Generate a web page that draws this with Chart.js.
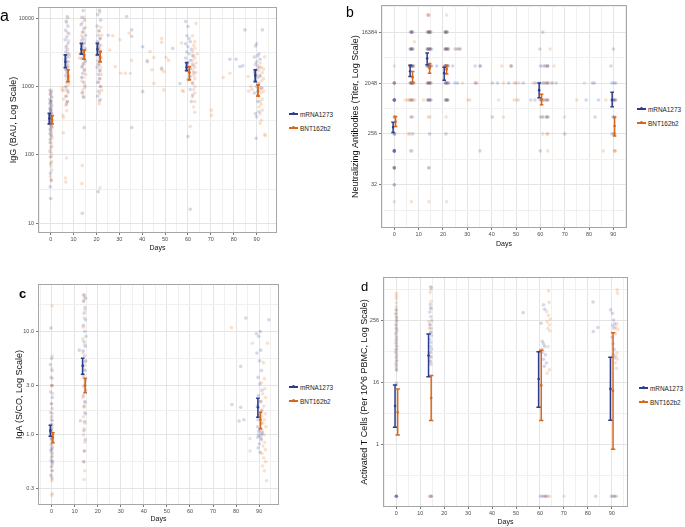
<!DOCTYPE html>
<html>
<head>
<meta charset="utf-8">
<script src="https://cdn.jsdelivr.net/npm/chart.js@4.4.1/dist/chart.umd.min.js"></script>
<style>
  html, body { margin: 0; padding: 0; background: #fff; }
  body { width: 685px; height: 527px; position: relative; overflow: hidden;
         font-family: "Liberation Sans", Arial, sans-serif; }
  canvas { position: absolute; }
  .tag { position: absolute; line-height: 1; color: #000; }
  .legend { position: absolute; font-size: 6.4px; color: #222; }
  .legend div { height: 14px; display: flex; align-items: center; white-space: nowrap; }
  .key { position: relative; display: inline-block; width: 9px; height: 1.5px; margin-right: 2px; }
  .key i { position: absolute; left: 3px; top: -1px; width: 3px; height: 3px; border-radius: 50%; background: inherit; }
</style>
</head>
<body>
<canvas id="pa"></canvas>
<canvas id="pb"></canvas>
<canvas id="pc"></canvas>
<canvas id="pd"></canvas>
<div class="tag" style="left:0px;top:8px;font-size:16px">a</div>
<div class="tag" style="left:346px;top:5px;font-size:14px">b</div>
<div class="tag" style="left:19px;top:287px;font-size:13px;font-weight:bold">c</div>
<div class="tag" style="left:361px;top:280px;font-size:13px">d</div>
<div class="legend" id="la" style="left:289px;top:107px"></div>
<div class="legend" id="lb" style="left:637px;top:102px"></div>
<div class="legend" id="lc" style="left:289px;top:380px"></div>
<div class="legend" id="ld" style="left:639px;top:381px"></div>
<script>
/* ---- series / labels ---- */
const seriesNames = ['mRNA1273', 'BNT162b2'];
const dayTicks = [0, 10, 20, 30, 40, 50, 60, 70, 80, 90];
const dayMinor = [-5, 5, 15, 25, 35, 45, 55, 65, 75, 85, 95];

/* a: IgG (BAU) */
const iggTicks = [10, 100, 1000, 10000];
const iggLabels = ['10', '100', '1000', '10000'];
const iggMinor = [31.6, 316, 3162];
const iggMrna = [
  [-0.3,880],[0.2,820],[-0.1,760],[0.3,700],[-0.4,650],[0.1,610],[-0.2,570],[0.4,540],[0,510],[-0.3,480],
  [0.2,455],[-0.1,430],[0.3,410],[-0.4,390],[0.1,370],[-0.2,350],[0.3,330],[0,315],[-0.3,300],[0.2,285],
  [-0.1,270],[0.4,255],[-0.2,240],[0.1,225],[-0.3,205],[0.2,190],[0,170],[-0.2,150],[0.1,130],[-0.3,112],
  [0.2,95],[0,75],[-0.1,54],[0.2,43],[-0.2,34],[0,23],[0.1,600],[-0.2,460],[0.2,380],
  [7.2,10500],[6.8,9000],[7.5,7600],[6.5,6600],[7.9,5900],[7,5300],[6.3,4800],[7.6,4300],[6.9,3900],[7.3,3500],
  [6.6,3200],[8,2950],[7.1,2700],[6.4,2500],[7.7,2300],[6.9,2100],[7.4,1900],[6.7,1750],[7.2,1600],[6.5,1450],
  [7.8,1300],[7,1150],[6.8,1000],[7.5,850],[6.6,720],[7.3,600],[6.9,560],
  [14.2,12800],[13.6,10200],[14.8,9300],[13.3,8000],[14.5,7000],[13.9,6200],[15.2,5600],[14.1,5100],[13.5,4700],[14.7,4300],
  [13.8,3900],[15,3600],[14.3,3300],[13.4,3050],[14.6,2800],[13.9,2550],[15.1,2350],[14.2,2150],[13.6,1950],[14.8,1750],
  [14,1550],[13.5,1350],[14.4,1150],[15,980],[13.8,820],[14.3,700],[14.6,250],[13.8,14],
  [21.3,13000],[20.6,11200],[21.8,9300],[20.3,7600],[21.1,6500],[20.8,5600],[21.6,5000],[20.4,4500],[21.2,4000],[20.9,3600],
  [21.7,3200],[20.5,2900],[21.4,2600],[20.7,2350],[21.1,2100],[20.3,1900],[21.6,1700],[20.9,1500],[21.3,1300],[20.6,1150],
  [21.8,1000],[21,850],[20.5,720],[21.3,620],[20.8,29],
  [25.2,5600],[33.2,10500],[35.4,6700],[35.4,5400],[40.2,3800],[40.2,840],[42.2,2300],[48.5,1850],[53.3,3600],[35.4,250],
  [59,8900],[60,7500],[59.5,5500],[60.5,5000],[61,4500],[59,4200],[60,3800],[61.5,3500],[59.5,3200],[60.5,3000],
  [62,2800],[59,2600],[61,2400],[60,2200],[62,2100],[59.5,2000],[61,1850],[60,1700],[62.5,1600],[61,1400],
  [60,1250],[62,1100],[61,900],[62,750],[61.5,600],[60,185],[61,16],[56.5,1100],
  [78.3,2500],[81,2500],[82.7,1950],[84.9,6700],[84,2000],
  [92.5,6700],[90,4200],[89.5,3900],[91,3000],[90.5,2800],[89,2700],[91.5,2500],[90,2300],[89.5,2100],[91,1900],
  [90,1750],[89,1600],[91.5,1450],[90.5,1350],[89.5,1200],[91,1100],[90,1000],[92,950],[89,800],[90.5,600],
  [91,430],[89.5,400],[90,360],[89.8,175]
];
const iggBnt = [
  [0.3,860],[-0.2,780],[0.5,700],[0.1,620],[-0.4,560],[0.4,500],[0,440],[0.6,400],[-0.3,370],[0.2,340],
  [0.5,310],[-0.1,290],[0.3,270],[0.7,250],[-0.2,230],[0.4,210],[0.1,195],[0.6,180],[-0.3,165],[0.2,150],
  [0.5,135],[0,120],[0.3,105],[-0.2,92],[0.4,80],[0.1,68],[0.5,60],[-0.1,48],[0.3,42],
  [7.6,10000],[6.9,8500],[7.3,6200],[7.8,4700],[6.6,3700],[7.4,3100],[8.1,2700],[7,2300],[7.7,2000],[6.5,1800],
  [7.2,1600],[8,1450],[6.8,1300],[7.5,1200],[7.9,1080],[6.3,980],[7.1,900],[5.8,870],[7.6,800],[6.9,720],
  [5.6,650],[7.3,600],[6.7,530],[7,440],[5,950],[5,870],[5.3,380],[5.6,350],[5.5,210],[6.9,90],[6.4,46],[6.6,40],
  [14.5,10200],[13.8,8500],[15.1,7300],[14.2,6300],[13.5,5500],[14.9,4800],[14.4,4200],[13.7,3800],[15.2,3400],[14,3100],
  [14.7,2800],[13.4,2550],[15,2300],[14.3,2100],[13.9,1900],[14.6,1700],[15.3,1500],[14.1,1350],[13.6,1200],[14.8,1050],
  [14.2,900],[13.9,780],[14.5,700],[13.8,70],[13.6,38],[12.8,3000],[12.5,2600],
  [21.5,12200],[21.9,7300],[21.2,6400],[22.3,5600],[21.6,5000],[20.9,4500],[22,4000],[21.4,3600],[21.8,3200],[21.1,2900],
  [22.2,2600],[21.5,2350],[20.8,2100],[21.9,1900],[21.3,1700],[22.1,1500],[21.6,1300],[21,1150],[21.7,1000],[22.3,880],
  [21.4,780],[21.8,650],[21.2,560],[21.6,33],
  [25.8,3400],[27.2,5500],[28.2,1950],[30.6,1560],[30.3,4800],[32.6,1560],[34.8,1560],[35.4,2400],[34.3,6000],[43.4,3240],
  [42.2,2400],[45.1,2650],[44.3,1750],[45.1,1110],[48.5,5000],[48.5,4400],[48.5,1750],[49.4,1650],[50.4,2650],[51.5,2400],[49.4,890],
  [63.5,8300],[62,5500],[63,4500],[62.5,4000],[63,3600],[62,3200],[64,3000],[62.5,2800],[63,2600],[62,2400],
  [63.5,2200],[62.5,2000],[63,1900],[62,1750],[63.5,1600],[62.5,1450],[63,1300],[62,1150],[63,1000],[62.5,900],
  [63,800],[62,700],[63,600],[62.5,500],[63,420],[61,260],[57.5,870],[58,840],[57.2,4300],
  [70.2,450],[70.3,380],[75.4,1350],[78.3,1560],[86.3,1400],
  [93.5,2700],[91.5,2200],[90.5,2000],[92,1900],[93,1800],[91,1700],[92.5,1600],[90,1500],[91.5,1400],[93,1300],
  [92,1200],[90.5,1100],[91,1000],[92.5,950],[91.5,900],[93,850],[92,800],[90.5,750],[91,700],[92.5,650],
  [91.5,600],[92,550],[91,500],[92.5,450],[91.5,400],[92,320],[91.5,290],[93.5,200],[93.8,190],[87.5,1000],[88,900],[86.5,850]
];
/* [day, lower, mean, upper] */
const iggMrnaBars = [[0,283,340,405],[7,1885,2290,2890],[14,2960,3500,4260],[21,2890,3500,4260],[60,1700,1900,2230],[90,1175,1450,1740]];
const iggBntBars = [[0,283,323,370],[7,1175,1400,1740],[14,2500,2900,3400],[21,2290,2700,3240],[60,1245,1600,1950],[90,725,850,1050]];

/* b: neutralizing titer */
const nabTicks = [32, 256, 2048, 16384];
const nabLabels = ['32', '256', '2048', '16384'];
const nabMinor = [11.3, 90.5, 724, 5793, 46341];
const nabMrna = [
  [0,2048],[0,2048],[0,1024],[0,1024],[0,1024],[0,1024],[0,1024],[0,1024],[0.1,512],[0,512],[0,256],[0,256],
  [0,128],[0,128],[0,128],[0,128],[0,128],[0,128],[0,64],[0,64],[0,64],[0,32],[0,32],
  [6.6,16384],[7,16384],[7.2,16384],[7.5,16384],[6.5,8192],[6.8,8192],[7,8192],[7.3,8192],[7.6,8192],
  [6.4,4096],[6.8,4096],[7,4096],[7.2,4096],[7.5,4096],[7.9,4096],[6.5,2048],[6.9,2048],[7,2048],[7.2,2048],[7.6,2048],[8,2048],
  [6.8,1024],[7.4,1024],[7,512],[7.5,256],[7.2,128],
  [14,32768],[13.6,16384],[14,16384],[14.2,16384],[14.6,16384],[15,16384],[13.5,8192],[13.9,8192],[14.1,8192],[14.4,8192],[14.8,8192],[15.3,8192],
  [13.4,4096],[13.8,4096],[14,4096],[14.3,4096],[14.7,4096],[15.2,4096],[13.6,2048],[14,2048],[14.2,2048],[14.6,2048],[15,2048],
  [13.8,1024],[14,1024],[14.3,1024],[14.8,1024],[15.1,1024],[14.5,256],[14.1,64],[17.4,4096],
  [20.8,16384],[21,16384],[21.3,16384],[21.7,16384],[20.9,8192],[21.1,8192],[21.4,8192],[21.8,8192],[22.3,8192],
  [20.7,4096],[21,4096],[21.2,4096],[21.6,4096],[22.2,4096],[20.9,2048],[21.1,2048],[21.5,2048],[21.9,2048],[22.4,2048],
  [21,1024],[21.3,1024],[21.6,1024],[22,1024],[21.2,256],
  [24.9,8192],[26.1,8192],[27,8192],[24,4096],[33.2,4096],[35.2,4096],[35.4,4096],[48,4096],[24.9,2048],[26,2048],[33.4,2048],
  [40.3,2048],[42.4,2048],[47,2048],[50,2048],[53,2048],[58,2048],[56.1,1024],[57.8,1024],[40.3,512],[35.2,128],
  [61,16384],[59.8,8192],[60,4096],[61,4096],[62,4096],[63,4096],[63,4096],[59.5,2048],[60.5,2048],[61.5,2048],[62.5,2048],[63.2,2048],
  [65,2048],[66.5,2048],[59.8,1024],[60.6,1024],[61.5,1024],[62.5,1024],[63,1024],[60,512],[61,512],[62.5,512],[63,512],[60,128],
  [70,256],[78.8,1024],[81.4,2048],[82.2,2048],[83.9,1024],[82.5,512],
  [90,8192],[89,4096],[89.4,2048],[90.3,2048],[91,2048],[89.3,1024],[90,1024],[90.3,1024],[91,1024],[89.8,512],[90.5,512],[89.4,256],[90.2,256]
];
const nabBnt = [
  [0,4096],[0,2048],[0,2048],[0,2048],[0.2,512],[0.3,256],[0,64],[0,64],[0,16],
  [6.9,16384],[7.3,16384],[8.3,11000],[6.6,8192],[7.1,8192],[7.6,8192],[6.2,4096],[6.9,4096],[7.4,4096],[8,4096],
  [6.6,2048],[7,2048],[7.5,2048],[7.9,2048],[4.5,1024],[5.5,1024],[6,1024],[6.5,1024],[7,1024],[7.6,1024],[8.4,1024],
  [6.8,512],[7.6,512],[5.8,256],[6.4,256],[6.6,128],[7,16],
  [13.6,32768],[14.3,32768],[13.8,16384],[14.2,16384],[14.5,16384],[14.9,16384],[13.5,8192],[14,8192],[14.4,8192],[14.9,8192],
  [13.6,4096],[14,4096],[14.3,4096],[14.7,4096],[15.4,4096],[13.6,2048],[14.1,2048],[14.5,2048],[15,2048],
  [12,1024],[13.6,1024],[14.4,1024],[14,512],[14.6,512],[14.3,64],[14.2,16],
  [21.5,32768],[21,16384],[21.4,16384],[21.8,16384],[20.8,8192],[21.3,8192],[21.7,8192],[22.1,8192],
  [20.5,4096],[21,4096],[21.5,4096],[22,4096],[21,2048],[21.4,2048],[21.9,2048],[21.2,1024],[21.6,1024],[22,1024],[21.3,512],[21.5,16],
  [25.7,8192],[27,8192],[28,2048],[33.2,2048],[34,2048],[30.2,1024],[31,1024],[44.1,4096],[48,4096],[48,4096],
  [44.8,2048],[49.2,2048],[51.2,2048],[57.1,2048],[42.8,1024],[49.2,1024],[50.2,1024],[51,1024],[44.8,512],
  [64,8192],[62,4096],[63,4096],[65.6,4096],[61.5,2048],[62.5,2048],[63.2,2048],[64.5,2048],[60.5,1024],[61.5,1024],[62.5,1024],[63.2,1024],
  [61,512],[62.5,512],[63.2,512],[61,256],[62.8,256],[63,256],[63,128],
  [69.9,512],[75,1024],[78.1,2048],[86.9,1024],[85.9,128],
  [90.5,1024],[90.8,1024],[90.4,256],[90.6,256],[90.4,128],[90.6,128],[90.8,128],[90.3,512]
];
const nabMrnaBars = [[0,270,338,413],[7,2680,3310,4210],[14,4330,5560,6990],[21,2280,3060,3880],[60,1125,1530,2048],[90,775,1024,1410]];
const nabBntBars = [[0,348,425,519],[7,2100,2600,3260],[14,3060,3750,4550],[21,2970,3600,4210],[60,840,1050,1290],[90,236,352,505]];

/* c: IgA (S/CO) */
const igaTicks = [0.3, 1, 3, 10];
const igaLabels = ['0.3', '1.0', '3.0', '10.0'];
const igaMinor = [0.548, 1.732, 5.477, 18.26];
const igaMrna = [
  [-0.3,10.8],[0,5.5],[-0.5,4.8],[0.2,4.2],[-0.2,3.6],[0.1,3.0],[-0.4,2.6],[0.3,2.3],[-0.1,2.0],[0.2,1.8],
  [-0.3,1.65],[0,1.5],[0.3,1.38],[-0.2,1.27],[0.1,1.17],[-0.4,1.08],[0.2,1.0],[-0.1,0.93],[0.3,0.87],[-0.2,0.81],
  [0.1,0.76],[-0.3,0.71],[0.2,0.66],[0,0.61],[-0.2,0.57],[0.3,0.53],[-0.1,0.49],[0.1,0.45],[-0.3,0.41],[0.2,0.38],
  [0,0.72],[0.1,0.92],[-0.2,1.12],[0.2,0.55],
  [14.2,22.5],[14.8,21],[13.9,19.5],[14.5,17],[14.1,15],[14.7,13],[13.8,11.5],[14.4,10],[14.9,9],[14,8],
  [14.6,7.2],[13.7,6.5],[14.3,5.8],[14.8,5.2],[14.1,4.7],[14.5,4.2],[13.9,3.8],[14.6,3.4],[14.2,3.0],[14.8,2.7],
  [13.8,2.4],[14.4,2.1],[14.1,1.9],[14.7,1.6],[14.3,1.35],[14,1.1],[14.6,0.9],[14.2,0.7],[13.9,0.55],[12,6.6],[12.5,1.37],
  [90.5,10],[89.8,9],[89,6.2],[90.2,5.2],[91,4.2],[89.5,3.6],[90.3,3.1],[91.2,2.7],[89.7,2.4],[90.6,2.1],
  [89.2,1.9],[91,1.7],[90,1.55],[89.5,1.4],[90.8,1.3],[89.3,1.2],[90.2,1.12],[91.3,1.05],[89.7,1.0],[90.5,0.97],
  [89.4,0.95],[90.9,0.9],[90.1,0.82],[89.6,0.75],[90.4,0.68],[91.1,1.02],[89.9,1.08],[88.8,9.5],[90.7,6.6],
  [84.2,13.5],[94.2,13],[82,4.6],[82,1.85],[78.2,1.97],[81.3,1.36],[83.4,1.4]
];
const igaBnt = [
  [0.2,17.7],[0.3,5.8],[-0.1,4.4],[0.4,3.5],[0.1,3.0],[0.2,3.0],[0.5,2.5],[0,2.0],[0.3,1.6],[-0.2,1.4],
  [0.4,1.25],[0.1,1.1],[0.5,0.98],[-0.1,0.9],[0.2,0.82],[0.4,0.75],[0,0.68],[0.3,0.62],[0.5,0.56],[0.1,0.5],
  [0.4,0.45],[-0.1,0.4],[0.2,0.36],[0.3,0.27],[0.1,0.26],
  [13.7,22.7],[14.2,21.5],[13.9,20],[14.4,16],[14.1,13.5],[13.8,11],[13.5,8.5],[14.3,7.5],[13.6,6.2],[14.5,5.1],
  [14,4.3],[13.7,3.6],[14.4,3.2],[13.9,2.9],[14.2,2.6],[13.6,2.3],[14.6,2.05],[14,1.85],[14.3,1.65],[13.8,1.5],
  [14.5,1.3],[14.1,1.15],[13.9,1.0],[14.4,0.85],[14.2,0.7],[14,0.55],[14.3,0.45],[14.1,0.37],
  [93.6,7.7],[91.8,5],[92.3,3.5],[91,3.2],[92.5,2.8],[91.5,2.5],[92.8,2.3],[90.8,2.1],[92,1.9],[91.3,1.75],
  [92.6,1.6],[91.1,1.5],[92.2,1.4],[91.6,1.3],[92.9,1.2],[91.4,1.1],[92.1,1.0],[90.9,0.92],[92.4,0.85],[91.7,0.78],
  [92.7,0.72],[91.2,0.66],[92,0.6],[92.8,0.55],[91.5,0.5],[92.3,0.45],[93.2,0.36],
  [78,10.9],[87,7.7],[86,0.92],[86,0.7]
];
const igaMrnaBars = [[0,0.97,1.1,1.24],[14,3.86,4.65,5.52],[90,1.48,1.85,2.26]];
const igaBntBars = [[0,0.84,0.94,1.05],[14,2.56,3.0,3.53],[90,1.15,1.4,1.65]];

/* d: activated T cells (zero counts shown at 0.1) */
const tcTicks = [1, 16, 256];
const tcLabels = ['1', '16', '256'];
const tcMinor = [0.25, 4, 64, 1024];
const tcMrna = [
  [0,408],[-0.2,340],[0.1,290],[0.2,250],[-0.1,210],[0,180],[0.2,160],[-0.2,140],[0.1,120],[0,105],
  [-0.1,92],[0.2,80],[0,70],[-0.2,62],[0.1,55],[0,48],[0.2,42],[-0.1,37],[0,32],[0.1,28],[0,15.5],[0,0.1],[0,0.1],[0,0.1],[0,0.1],
  [14.6,1100],[14.2,520],[14.5,430],[14,370],[14.4,300],[14.7,250],[14.1,210],[14.5,180],[14.3,150],[14.6,130],
  [14,110],[14.4,95],[14.2,80],[14.6,70],[14.3,60],[14.5,50],[14.1,42],[14.4,36],[14.5,0.1],[14.7,0.1],
  [53,360],[61.5,510],[62,420],[60.5,225],[61,100],[61.5,90],[62,80],[60.8,70],[61.2,62],[62.3,55],[61.5,45],[62.7,38],[61.8,33],
  [60.2,0.1],[61,0.1],[61.8,0.1],[62.5,0.1],
  [89.5,408],[90.3,350],[90.8,260],[91.2,220],[90.5,200],[91,180],[90.2,120],[90.6,90],[91,70],[90.8,55],[91.3,48],
  [82.2,580],[82.3,155],[84.2,185],[83.3,0.1],[89.8,0.1],[90.5,0.1],[91.3,0.1]
];
const tcBnt = [
  [0,855],[0,760],[0,680],[0,560],[0,470],[0,400],[0,350],[0,300],[0,260],[0,230],[0,200],[0,175],
  [0,150],[0,130],[0,110],[0,95],[0,82],[0,70],[0,60],[0,50],[0,42],[0,35],[0,28],[0,0.1],
  [14.2,1150],[14.4,1000],[14.1,880],[14.5,600],[14.3,450],[13.5,240],[14,210],[13.8,180],[14.5,150],[13.7,60],[14.1,50],[14.3,40],
  [13.7,0.1],[14.2,0.1],
  [63.6,950],[63.8,570],[62.8,380],[63.5,320],[64.2,270],[63,240],[64,210],[63.3,180],[64.1,160],[63.4,79],[64,28],[63,24],
  [62.5,0.1],[63.3,0.1],[64,0.1],[70.1,0.1],
  [92.3,1000],[92.4,860],[92.1,220],[91.8,190],[92.5,170],[91.6,140],[92.2,60],[91.9,52],[92.4,45],[91.5,38],[92,30],
  [91.2,0.1],[92,0.1]
];
const tcMrnaBars = [[0,2.17,5.6,14.2],[14,20.6,53,139],[60,5.3,18.6,63],[90,2.97,12,49]];
const tcBntBars = [[0,1.53,4.2,11.9],[14,2.93,8.0,21.9],[60,2.93,14,67],[90,0.81,11,146]];

/* ---- style ---- */
const BLUE = '#2b3d8f', ORANGE = '#d8671a';
const BLUE_PT = 'rgba(55,72,150,0.21)', ORANGE_PT = 'rgba(228,120,40,0.22)';
const FONT = '"Liberation Sans", Arial, sans-serif';
const GRID = '#e4e4e4', GRID_MINOR = '#f0f0f0';

function tickList(major, minor) {
  return major.map(v => ({ value: v })).concat(minor.map(v => ({ value: v, minor: true })))
    .sort((p, q) => p.value - q.value);
}

// error bars drawn through the chart's own scales
const errorBars = {
  id: 'errorBars',
  afterDatasetsDraw(chart, args, o) {
    const { ctx, scales: { x, y } } = chart;
    ctx.save();
    ctx.lineWidth = o.width;
    o.sets.forEach(set => {
      ctx.strokeStyle = set.color; ctx.fillStyle = set.color;
      set.data.forEach(([d, lo, mid, hi]) => {
        const px = x.getPixelForValue(d + set.dodge);
        const yl = y.getPixelForValue(lo), yh = y.getPixelForValue(hi), ym = y.getPixelForValue(mid);
        ctx.beginPath();
        ctx.moveTo(px, yl); ctx.lineTo(px, yh);
        ctx.moveTo(px - o.cap, yl); ctx.lineTo(px + o.cap, yl);
        ctx.moveTo(px - o.cap, yh); ctx.lineTo(px + o.cap, yh);
        ctx.stroke();
        ctx.beginPath(); ctx.arc(px, ym, o.dot, 0, Math.PI * 2); ctx.fill();
      });
    });
    ctx.restore();
  }
};

const frame = {
  id: 'frame',
  afterDraw(chart) {
    const { ctx, chartArea: a } = chart;
    ctx.save();
    ctx.strokeStyle = '#a6a6a6'; ctx.lineWidth = 1;
    ctx.strokeRect(Math.round(a.left) + 0.5, Math.round(a.top) + 0.5, Math.round(a.right - a.left) - 1, Math.round(a.bottom - a.top) - 1);
    ctx.restore();
  }
};

function panel(id, box, area, o) {
  const cv = document.getElementById(id);
  cv.width = box.w; cv.height = box.h;
  cv.style.left = box.l + 'px'; cv.style.top = box.t + 'px';
  const yW = area.l - box.l, xH = box.t + box.h - area.b;
  const gridOpts = {
    color: c => (c.tick && c.tick.minor ? GRID_MINOR : GRID),
    lineWidth: 1, tickLength: 2,
    tickColor: c => (c.tick && c.tick.minor ? 'rgba(0,0,0,0)' : '#777')
  };
  const tickFont = { family: FONT, size: 5.5 };
  new Chart(cv, {
    type: 'scatter',
    data: {
      datasets: [
        { label: seriesNames[0], data: o.ptsM.map(([x, y]) => ({ x, y })), backgroundColor: BLUE_PT, pointRadius: 1.8, borderWidth: 0 },
        { label: seriesNames[1], data: o.ptsB.map(([x, y]) => ({ x, y })), backgroundColor: ORANGE_PT, pointRadius: 1.8, borderWidth: 0 }
      ]
    },
    options: {
      responsive: false, animation: false, devicePixelRatio: 1,
      layout: { padding: { left: 0, top: area.t - box.t, right: box.l + box.w - area.r, bottom: 0 } },
      plugins: {
        legend: { display: false }, tooltip: { enabled: false },
        errorBars: {
          width: o.barWidth, cap: o.cap, dot: 1.3,
          sets: [
            { data: o.barsM, color: BLUE, dodge: -o.dodge },
            { data: o.barsB, color: ORANGE, dodge: o.dodge }
          ]
        }
      },
      scales: {
        x: {
          type: 'linear', min: o.xMin, max: o.xMax,
          afterBuildTicks: s => { s.ticks = tickList(dayTicks, dayMinor); },
          afterFit: s => { s.height = xH; },
          border: { display: false },
          grid: gridOpts,
          ticks: {
            autoSkip: false, maxRotation: 0, padding: 1, color: '#4d4d4d', font: tickFont,
            callback: (v, i, t) => (t[i].minor ? '' : String(v))
          },
          title: { display: true, text: 'Days', color: '#111', font: { family: FONT, size: 7 }, padding: { top: 0, bottom: o.xTitlePad } }
        },
        y: {
          type: 'logarithmic', min: o.yMin, max: o.yMax,
          afterBuildTicks: s => { s.ticks = tickList(o.yTicks, o.yMinor); },
          afterFit: s => { s.width = yW; },
          border: { display: false },
          grid: gridOpts,
          ticks: {
            autoSkip: false, padding: 2, color: '#4d4d4d', font: tickFont,
            callback: (v, i, t) => (t[i].minor ? '' : o.yLabels[o.yTicks.indexOf(t[i].value)])
          },
          title: { display: true, text: o.yTitle, color: '#111', font: { family: FONT, size: 9 }, padding: { top: o.yTitlePad, bottom: 0 } }
        }
      }
    },
    plugins: [errorBars, frame]
  });
}

function legend(id) {
  const el = document.getElementById(id);
  [BLUE, ORANGE].forEach((c, i) => {
    const row = document.createElement('div');
    row.innerHTML = '<span class="key" style="background:' + c + '"><i></i></span>' + seriesNames[i];
    el.appendChild(row);
  });
}

panel('pa', { l: 0, t: 0, w: 282, h: 255 }, { l: 38, t: 7, r: 277, b: 233 }, {
  xMin: -5.55, xMax: 98.9, yMin: 7.21, yMax: 14480,
  yTicks: iggTicks, yLabels: iggLabels, yMinor: iggMinor, yTitle: 'IgG (BAU, Log Scale)', yTitlePad: 8.6,
  xTitlePad: 3, ptsM: iggMrna, ptsB: iggBnt, barsM: iggMrnaBars, barsB: iggBntBars,
  dodge: 0.6, barWidth: 1.8, cap: 1.8
});
panel('pb', { l: 340, t: 0, w: 292, h: 251 }, { l: 381, t: 1, r: 627, b: 228 }, {
  xMin: -5.47, xMax: 95.6, yMin: 5.49, yMax: 48920,
  yTicks: nabTicks, yLabels: nabLabels, yMinor: nabMinor, yTitle: 'Neutralizing Antibodies (Titer, Log Scale)', yTitlePad: 10.6,
  xTitlePad: 3, ptsM: nabMrna, ptsB: nabBnt, barsM: nabMrnaBars, barsB: nabBntBars,
  dodge: 0.5, barWidth: 1.5, cap: 1.8
});
panel('pc', { l: 0, t: 262, w: 284, h: 264 }, { l: 38, t: 284, r: 279, b: 505 }, {
  xMin: -5.9, xMax: 98.6, yMin: 0.21, yMax: 28.8,
  yTicks: igaTicks, yLabels: igaLabels, yMinor: igaMinor, yTitle: 'IgA (S/CO, Log Scale)', yTitlePad: 14.3,
  xTitlePad: 3, ptsM: igaMrna, ptsB: igaBnt, barsM: igaMrnaBars, barsB: igaBntBars,
  dodge: 0.55, barWidth: 1.6, cap: 1.8
});
panel('pd', { l: 340, t: 262, w: 292, h: 264 }, { l: 383, t: 277, r: 629, b: 507 }, {
  xMin: -5.58, xMax: 96.8, yMin: 0.0617, yMax: 1766,
  yTicks: tcTicks, yLabels: tcLabels, yMinor: tcMinor, yTitle: 'Activated T Cells (Per 10^6 PBMC, Log Scale)', yTitlePad: 19.6,
  xTitlePad: 0, ptsM: tcMrna, ptsB: tcBnt, barsM: tcMrnaBars, barsB: tcBntBars,
  dodge: 0.55, barWidth: 1.5, cap: 2.2
});
['la', 'lb', 'lc', 'ld'].forEach(legend);
</script>
</body>
</html>
